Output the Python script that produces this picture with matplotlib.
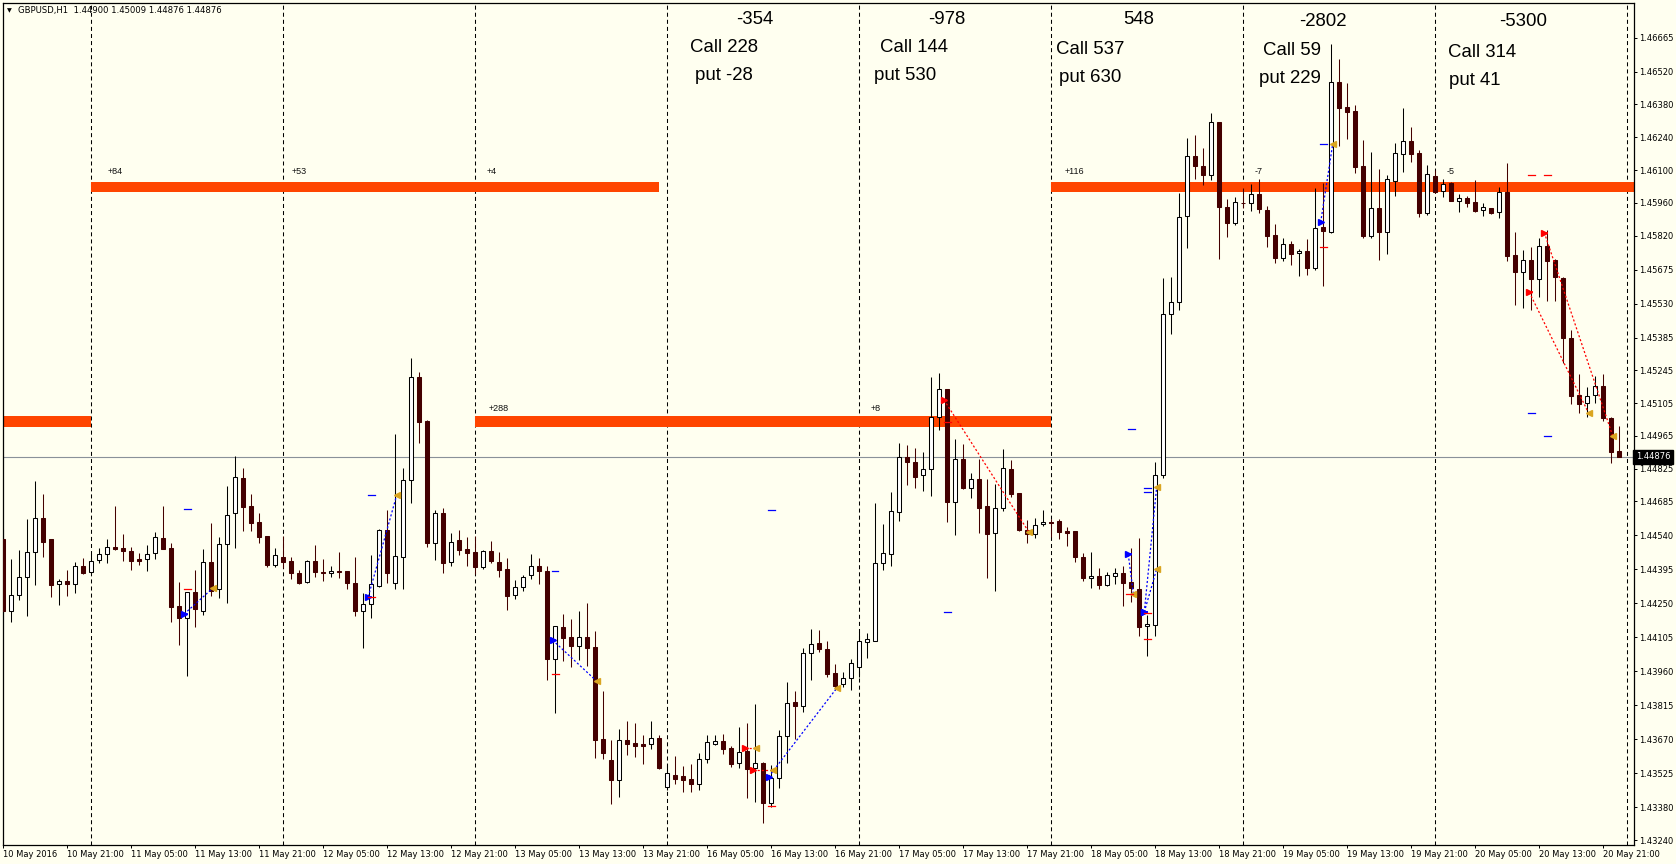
import matplotlib
matplotlib.use('Agg')
import matplotlib.pyplot as plt
import numpy as np
from matplotlib.transforms import blended_transform_factory

plt.rcParams['lines.scale_dashes'] = False
UI_FONT = ['DejaVu Sans']
BIG_FONT = ['Liberation Sans', 'DejaVu Sans']

# ---------------- data (GBPUSD H1, 10 May 13:00 .. 20 May 23:00) ----------------
opens = [
    1.44525, 1.44219, 1.44285, 1.44364, 1.44468, 1.44613, 1.44525, 1.44332, 1.44344, 1.44332,
    1.44409, 1.44383, 1.44434, 1.44460, 1.44490, 1.44485, 1.44474, 1.44440, 1.44438, 1.44464,
    1.44529, 1.44485, 1.44239, 1.44189, 1.44297, 1.44219, 1.44425, 1.44310, 1.44502, 1.44635,
    1.44785, 1.44666, 1.44598, 1.44538, 1.44415, 1.44447, 1.44431, 1.44379, 1.44340, 1.44431,
    1.44384, 1.44379, 1.44388, 1.44388, 1.44337, 1.44219, 1.44246, 1.44326, 1.44563, 1.44336,
    1.44449, 1.44777, 1.45217, 1.45029, 1.44507, 1.44635, 1.44425, 1.44520, 1.44481, 1.44470,
    1.44404, 1.44474, 1.44427, 1.44397, 1.44285, 1.44319, 1.44370, 1.44410, 1.44388, 1.44014,
    1.44149, 1.44107, 1.44070, 1.44107, 1.44064, 1.43670, 1.43582, 1.43498, 1.43667, 1.43654,
    1.43650, 1.43649, 1.43674, 1.43465, 1.43518, 1.43513, 1.43500, 1.43478, 1.43585, 1.43651,
    1.43663, 1.43633, 1.43568, 1.43621, 1.43546, 1.43568, 1.43397, 1.43503, 1.43685, 1.43828,
    1.43813, 1.44040, 1.44080, 1.44054, 1.43952, 1.43905, 1.43930, 1.43977, 1.44087, 1.44091,
    1.44421, 1.44460, 1.44639, 1.44874, 1.44852, 1.44797, 1.44823, 1.45047, 1.45164, 1.44684,
    1.44865, 1.44744, 1.44781, 1.44666, 1.44549, 1.44656, 1.44824, 1.44720, 1.44563, 1.44545,
    1.44588, 1.44598, 1.44600, 1.44557, 1.44557, 1.44450, 1.44360, 1.44368, 1.44329, 1.44368,
    1.44379, 1.44340, 1.44313, 1.44152, 1.44158, 1.44799, 1.45486, 1.45535, 1.45903, 1.46161,
    1.46119, 1.46079, 1.46305, 1.45942, 1.45874, 1.45961, 1.45961, 1.45998, 1.45929, 1.45823,
    1.45726, 1.45783, 1.45745, 1.45755, 1.45681, 1.45858, 1.45834, 1.46475, 1.46369, 1.46352,
    1.46117, 1.45820, 1.45937, 1.45834, 1.46055, 1.46167, 1.46224, 1.46172, 1.45915, 1.46075,
    1.46011, 1.46044, 1.45969, 1.45979, 1.45962, 1.45928, 1.45937, 1.45920, 1.46008, 1.45737,
    1.45666, 1.45716, 1.45634, 1.45775, 1.45716, 1.45638, 1.45382, 1.45140, 1.45104, 1.45140,
    1.45177, 1.45040, 1.44900]
highs = [
    1.44568, 1.44440, 1.44478, 1.44609, 1.44773, 1.44717, 1.44525, 1.44356, 1.44393, 1.44427,
    1.44443, 1.44460, 1.44485, 1.44524, 1.44666, 1.44546, 1.44492, 1.44467, 1.44498, 1.44555,
    1.44666, 1.44507, 1.44340, 1.44297, 1.44393, 1.44484, 1.44593, 1.44534, 1.44751, 1.44878,
    1.44828, 1.44717, 1.44636, 1.44538, 1.44485, 1.44538, 1.44449, 1.44393, 1.44435, 1.44499,
    1.44440, 1.44410, 1.44469, 1.44388, 1.44447, 1.44296, 1.44457, 1.44568, 1.44649, 1.44973,
    1.44827, 1.45298, 1.45238, 1.45033, 1.44649, 1.44656, 1.44549, 1.44563, 1.44532, 1.44538,
    1.44478, 1.44517, 1.44470, 1.44443, 1.44350, 1.44371, 1.44461, 1.44443, 1.44410, 1.44152,
    1.44204, 1.44184, 1.44218, 1.44251, 1.44132, 1.43876, 1.43667, 1.43714, 1.43748, 1.43740,
    1.43687, 1.43748, 1.43687, 1.43563, 1.43599, 1.43556, 1.43565, 1.43610, 1.43687, 1.43687,
    1.43693, 1.43641, 1.43721, 1.43741, 1.43819, 1.43574, 1.43560, 1.43710, 1.43913, 1.43876,
    1.44058, 1.44141, 1.44137, 1.44090, 1.43991, 1.43959, 1.44013, 1.44129, 1.44122, 1.44677,
    1.44589, 1.44726, 1.44934, 1.44926, 1.44912, 1.44896, 1.45215, 1.45232, 1.45164, 1.44951,
    1.44931, 1.44806, 1.44865, 1.44781, 1.44760, 1.44909, 1.44862, 1.44720, 1.44606, 1.44616,
    1.44649, 1.44610, 1.44609, 1.44576, 1.44557, 1.44467, 1.44470, 1.44399, 1.44384, 1.44402,
    1.44411, 1.44486, 1.44531, 1.44202, 1.44852, 1.45641, 1.45644, 1.46003, 1.46237, 1.46248,
    1.46194, 1.46344, 1.46305, 1.45975, 1.45985, 1.46023, 1.46040, 1.46062, 1.45947, 1.45870,
    1.45809, 1.45798, 1.45762, 1.45804, 1.46023, 1.46044, 1.46638, 1.46574, 1.46470, 1.46378,
    1.46228, 1.46176, 1.46103, 1.46079, 1.46214, 1.46364, 1.46284, 1.46186, 1.46122, 1.46100,
    1.46062, 1.46050, 1.45998, 1.45991, 1.46058, 1.45958, 1.45937, 1.46029, 1.46129, 1.45837,
    1.45759, 1.45773, 1.45809, 1.45844, 1.45720, 1.45645, 1.45417, 1.45229, 1.45173, 1.45222,
    1.45228, 1.45047, 1.45009]
lows = [
    1.44208, 1.44172, 1.44265, 1.44196, 1.44329, 1.44449, 1.44279, 1.44243, 1.44282, 1.44296,
    1.44376, 1.44379, 1.44424, 1.44424, 1.44478, 1.44432, 1.44393, 1.44414, 1.44390, 1.44441,
    1.44482, 1.44172, 1.44073, 1.43941, 1.44151, 1.44199, 1.44283, 1.44274, 1.44253, 1.44488,
    1.44560, 1.44560, 1.44507, 1.44407, 1.44407, 1.44400, 1.44353, 1.44332, 1.44339, 1.44364,
    1.44347, 1.44364, 1.44360, 1.44310, 1.44196, 1.44058, 1.44187, 1.44321, 1.44339, 1.44313,
    1.44312, 1.44679, 1.44935, 1.44492, 1.44435, 1.44381, 1.44411, 1.44458, 1.44410, 1.44376,
    1.44396, 1.44424, 1.44364, 1.44223, 1.44270, 1.44304, 1.44356, 1.44332, 1.43923, 1.43781,
    1.44006, 1.43980, 1.44009, 1.43984, 1.43589, 1.43587, 1.43394, 1.43425, 1.43603, 1.43596,
    1.43566, 1.43630, 1.43544, 1.43454, 1.43478, 1.43444, 1.43446, 1.43454, 1.43568, 1.43644,
    1.43607, 1.43553, 1.43549, 1.43418, 1.43404, 1.43314, 1.43382, 1.43463, 1.43570, 1.43670,
    1.43788, 1.43923, 1.44044, 1.43937, 1.43880, 1.43894, 1.43880, 1.43937, 1.44018, 1.44091,
    1.44393, 1.44411, 1.44603, 1.44756, 1.44744, 1.44731, 1.44709, 1.44990, 1.44599, 1.44542,
    1.44737, 1.44701, 1.44552, 1.44360, 1.44304, 1.44646, 1.44706, 1.44560, 1.44509, 1.44531,
    1.44581, 1.44534, 1.44526, 1.44494, 1.44426, 1.44344, 1.44316, 1.44313, 1.44324, 1.44332,
    1.44239, 1.44258, 1.44111, 1.44026, 1.44111, 1.44786, 1.45401, 1.45504, 1.45767, 1.46063,
    1.46037, 1.46058, 1.45721, 1.45814, 1.45866, 1.45938, 1.45926, 1.45918, 1.45773, 1.45702,
    1.45713, 1.45695, 1.45649, 1.45652, 1.45673, 1.45606, 1.45830, 1.46204, 1.46233, 1.46089,
    1.45809, 1.45811, 1.45716, 1.45740, 1.45991, 1.46093, 1.46136, 1.45901, 1.45908, 1.46001,
    1.45986, 1.45967, 1.45922, 1.45941, 1.45922, 1.45905, 1.45912, 1.45894, 1.45713, 1.45524,
    1.45510, 1.45503, 1.45557, 1.45541, 1.45542, 1.45275, 1.45100, 1.45064, 1.45047, 1.45107,
    1.45030, 1.44848, 1.44876]
closes = [
    1.44219, 1.44285, 1.44362, 1.44468, 1.44613, 1.44514, 1.44329, 1.44344, 1.44332, 1.44409,
    1.44381, 1.44431, 1.44460, 1.44490, 1.44482, 1.44475, 1.44432, 1.44432, 1.44462, 1.44532,
    1.44482, 1.44236, 1.44189, 1.44297, 1.44225, 1.44425, 1.44304, 1.44502, 1.44626, 1.44788,
    1.44663, 1.44595, 1.44535, 1.44415, 1.44455, 1.44428, 1.44379, 1.44339, 1.44431, 1.44383,
    1.44379, 1.44388, 1.44385, 1.44339, 1.44219, 1.44246, 1.44334, 1.44563, 1.44379, 1.44452,
    1.44777, 1.45217, 1.45025, 1.44508, 1.44635, 1.44424, 1.44511, 1.44478, 1.44467, 1.44404,
    1.44474, 1.44432, 1.44394, 1.44283, 1.44319, 1.44362, 1.44409, 1.44390, 1.44013, 1.44152,
    1.44104, 1.44070, 1.44107, 1.44061, 1.43668, 1.43613, 1.43496, 1.43666, 1.43651, 1.43643,
    1.43643, 1.43674, 1.43549, 1.43525, 1.43502, 1.43498, 1.43478, 1.43585, 1.43657, 1.43663,
    1.43630, 1.43566, 1.43617, 1.43542, 1.43568, 1.43397, 1.43503, 1.43685, 1.43824, 1.43813,
    1.44040, 1.44078, 1.44054, 1.43949, 1.43899, 1.43930, 1.43994, 1.44088, 1.44097, 1.44421,
    1.44464, 1.44645, 1.44874, 1.44852, 1.44791, 1.44823, 1.45047, 1.45164, 1.44684, 1.44865,
    1.44744, 1.44780, 1.44659, 1.44545, 1.44656, 1.44827, 1.44717, 1.44563, 1.44545, 1.44584,
    1.44599, 1.44593, 1.44554, 1.44552, 1.44447, 1.44357, 1.44368, 1.44329, 1.44373, 1.44379,
    1.44336, 1.44316, 1.44150, 1.44161, 1.44799, 1.45486, 1.45537, 1.45899, 1.46161, 1.46115,
    1.46079, 1.46305, 1.45940, 1.45874, 1.45964, 1.45958, 1.45998, 1.45932, 1.45820, 1.45726,
    1.45783, 1.45740, 1.45755, 1.45683, 1.45851, 1.45841, 1.46477, 1.46366, 1.46349, 1.46114,
    1.45820, 1.45937, 1.45834, 1.46061, 1.46172, 1.46224, 1.46167, 1.45915, 1.46082, 1.46008,
    1.46040, 1.45969, 1.45979, 1.45961, 1.45926, 1.45941, 1.45915, 1.46008, 1.45734, 1.45666,
    1.45716, 1.45634, 1.45775, 1.45713, 1.45642, 1.45382, 1.45137, 1.45101, 1.45137, 1.45177,
    1.45040, 1.44898, 1.44876]

time_tick_bars = list(range(0, 201, 8))
time_tick_labels = [
    '10 May 2016', '10 May 21:00', '11 May 05:00', '11 May 13:00', '11 May 21:00',
    '12 May 05:00', '12 May 13:00', '12 May 21:00', '13 May 05:00', '13 May 13:00',
    '13 May 21:00', '16 May 05:00', '16 May 13:00', '16 May 21:00', '17 May 05:00',
    '17 May 13:00', '17 May 21:00', '18 May 05:00', '18 May 13:00', '18 May 21:00',
    '19 May 05:00', '19 May 13:00', '19 May 21:00', '20 May 05:00', '20 May 13:00',
    '20 May 21:00']
day_start_bars = [11, 35, 59, 83, 107, 131, 155, 179, 203]

price_ticks = [1.46665, 1.46520, 1.46380, 1.46240, 1.46100, 1.45960, 1.45820, 1.45675,
               1.45530, 1.45385, 1.45245, 1.45105, 1.44965, 1.44825, 1.44685, 1.44540,
               1.44395, 1.44250, 1.44105, 1.43960, 1.43815, 1.43670, 1.43525, 1.43380,
               1.43240]

# orange zones: (start bar, end bar, low price, high price)
zones = [
    (-1, 11, 1.45001, 1.45050),
    (11, 82, 1.46004, 1.46049),
    (59, 131, 1.45001, 1.45050),
    (131, 205, 1.46004, 1.46049),
]
zone_labels = [('+84', 13.1, 1.46094), ('+53', 36.1, 1.46094), ('+4', 60.4, 1.46094),
               ('+116', 132.75, 1.46094), ('-7', 156.5, 1.46094), ('-5', 180.5, 1.46094),
               ('+288', 60.7, 1.45084), ('+8', 108.4, 1.45084)]

# trade marks: (entry bar, entry price, exit bar, exit price)
blue_trades = [(22.66, 1.44205, 26.21, 1.44315), (45.66, 1.44279, 49.21, 1.44712),
               (68.71, 1.44093, 74.21, 1.43918), (95.71, 1.43510, 104.21, 1.43888),
               (140.66, 1.44459, 141.29, 1.44292), (142.66, 1.44213, 144.21, 1.44747),
               (142.66, 1.44213, 144.21, 1.44397), (164.71, 1.45877, 166.21, 1.46210)]
red_trades = [(92.75, 1.43632, 94.10, 1.43632), (93.71, 1.43539, 96.21, 1.43539),
              (117.63, 1.45118, 128.21, 1.44556), (192.66, 1.45833, 201.21, 1.44965),
              (190.79, 1.45578, 198.21, 1.45062)]
blue_levels = [(23.04, 1.44652), (46.04, 1.44712), (69.0, 1.44388), (96.09, 1.44648),
               (118.04, 1.44212), (141.04, 1.44993), (143.04, 1.44743), (143.04, 1.44727),
               (165.04, 1.46210), (191.09, 1.45062), (193.04, 1.44965)]
red_levels = [(23.04, 1.44310), (46.09, 1.44276), (69.04, 1.43949), (96.09, 1.43385),
              (118.04, 1.45023), (140.8, 1.44292), (143.04, 1.44210), (143.04, 1.44100),
              (165.04, 1.45773), (191.09, 1.46078), (193.04, 1.46078)]

period_totals = ['-354', '-978', '548', '-2802', '-5300']
call_values = [228, 144, 537, 59, 314]
put_values = [-28, 530, 630, 229, 41]

symbol_header = 'GBPUSD,H1  1.44900 1.45009 1.44876 1.44876'

# ---------------- figure ----------------
BG = '#FFFFF0'
BEAR = '#440000'
W, H = 1676, 864
fig = plt.figure(figsize=(W / 100, H / 100), dpi=100)
fig.patch.set_facecolor(BG)
L, R, T, B = 2.5, 1634, 2.5, 845
ax = fig.add_axes([L / W, 1 - B / H, (R - L) / W, (B - T) / H])
ax.set_facecolor(BG)

bar_x0, bar_dx = 3.0, 8.0      # pixel of bar 0 and pixels per bar
ax.set_xlim((L - bar_x0) / bar_dx, (R - bar_x0) / bar_dx)
ax.set_ylim(1.432187, 1.46815)

o = np.array(opens); h = np.array(highs); l = np.array(lows); c = np.array(closes)
x = np.arange(len(o))
bull = c >= o

# day separators
for d in day_start_bars:
    ax.axvline(d, color='black', lw=0.75, linestyle=(0, (2.9, 2.2)), zorder=1)

# orange zones
for s, e, lo, hi in zones:
    ax.fill_between([s, e], lo, hi, color='#FF4500', lw=0, zorder=1.2)
for txt, bx, py in zone_labels:
    ax.text(bx, py, txt, fontsize=6.5, family=BIG_FONT, color='#111111',
            ha='left', va='center', zorder=6)

# current price line
ax.axhline(closes[-1], color='#8a9199', lw=0.8, zorder=1.5)

# candles
ax.vlines(x[bull], l[bull], h[bull], color='black', lw=0.75, zorder=2)
ax.vlines(x[~bull], l[~bull], h[~bull], color=BEAR, lw=0.75, zorder=2)
ax.bar(x[bull], (c - o)[bull], bottom=o[bull], width=0.5, facecolor='white',
       edgecolor='black', linewidth=0.75, zorder=3)
ax.bar(x[~bull], (c - o)[~bull], bottom=o[~bull], width=0.5, facecolor=BEAR,
       edgecolor=BEAR, linewidth=0.75, zorder=3)

# trade marks
def draw_trades(trades, col):
    for x0, p0, x1, p1 in trades:
        ax.plot([x0, x1], [p0, p1], color=col, lw=0.9, linestyle=(0, (1.5, 1.5)), zorder=4)
        ax.plot([x0], [p0], marker='>', ms=4.5, color=col, mec=col, zorder=5)
        ax.plot([x0 - 0.25, x0 + 0.3], [p0, p0], color=col, lw=1.3, zorder=5)
        ax.plot([x1], [p1], marker='<', ms=4.5, color='#DAA520', mec='#DAA520', zorder=5)

draw_trades(blue_trades, '#0000FF')
draw_trades(red_trades, '#FF0000')
for bx, p in blue_levels:
    ax.plot([bx - 0.42, bx + 0.42], [p, p], color='#0000FF', lw=0.9, zorder=5)
for bx, p in red_levels:
    ax.plot([bx - 0.42, bx + 0.42], [p, p], color='#FF0000', lw=0.9, zorder=5)

# axes styling
for sp in ax.spines.values():
    sp.set_color('black')
    sp.set_linewidth(0.9)
ax.yaxis.tick_right()
ax.set_yticks(price_ticks)
ax.set_yticklabels([f'{v:.5f}' for v in price_ticks])
ax.tick_params(axis='y', direction='out', length=2.2, width=0.72, pad=1.8,
               labelsize=6, colors='black')
ax.set_xticks(time_tick_bars)
ax.set_xticklabels(time_tick_labels)
ax.tick_params(axis='x', direction='out', length=2.2, width=0.72, pad=1.5,
               labelsize=6, colors='black')
for lab in ax.get_xticklabels():
    lab.set_horizontalalignment('left')
    lab.set_family(UI_FONT)
for lab in ax.get_yticklabels():
    lab.set_family(UI_FONT)

# current price tag
tr = blended_transform_factory(ax.transAxes, ax.transData)
ax.text(1.0012, closes[-1], f'{closes[-1]:.5f}', transform=tr, ha='left', va='center',
        color='white', fontsize=6, family=UI_FONT, clip_on=False, zorder=10,
        bbox=dict(boxstyle='square,pad=0.3', fc='black', ec='black'))

# header
fig.text(9.5 / W, 1 - 11 / H, '\u25BC', fontsize=4.5, family=['DejaVu Sans'],
         ha='center', va='center', color='black')
fig.text(18 / W, 1 - 11 / H, symbol_header, fontsize=6.1, family=UI_FONT,
         ha='left', va='center', color='black')

# period summaries
tot_pos = [(755, 20), (947, 20), (1139, 20), (1323, 21), (1523, 21.7)]
call_pos = [(690, 47), (880, 47), (1056, 49), (1263, 50.7), (1448, 52.7)]
put_pos = [(695, 75), (874, 75), (1059, 77), (1259, 78.3), (1449, 80.7)]
for k in range(len(period_totals)):
    tx, ty = tot_pos[k]
    fig.text(tx / W, 1 - ty / H, period_totals[k], fontsize=13.4, family=BIG_FONT,
             ha='center', va='center', color='black')
    cx, cy = call_pos[k]
    fig.text(cx / W, 1 - cy / H, f'Call {call_values[k]}', fontsize=13.4, family=BIG_FONT,
             ha='left', va='center', color='black')
    px, py = put_pos[k]
    fig.text(px / W, 1 - py / H, f'put {put_values[k]}', fontsize=13.4, family=BIG_FONT,
             ha='left', va='center', color='black')

fig.savefig('out.png', dpi=100, facecolor=BG)
